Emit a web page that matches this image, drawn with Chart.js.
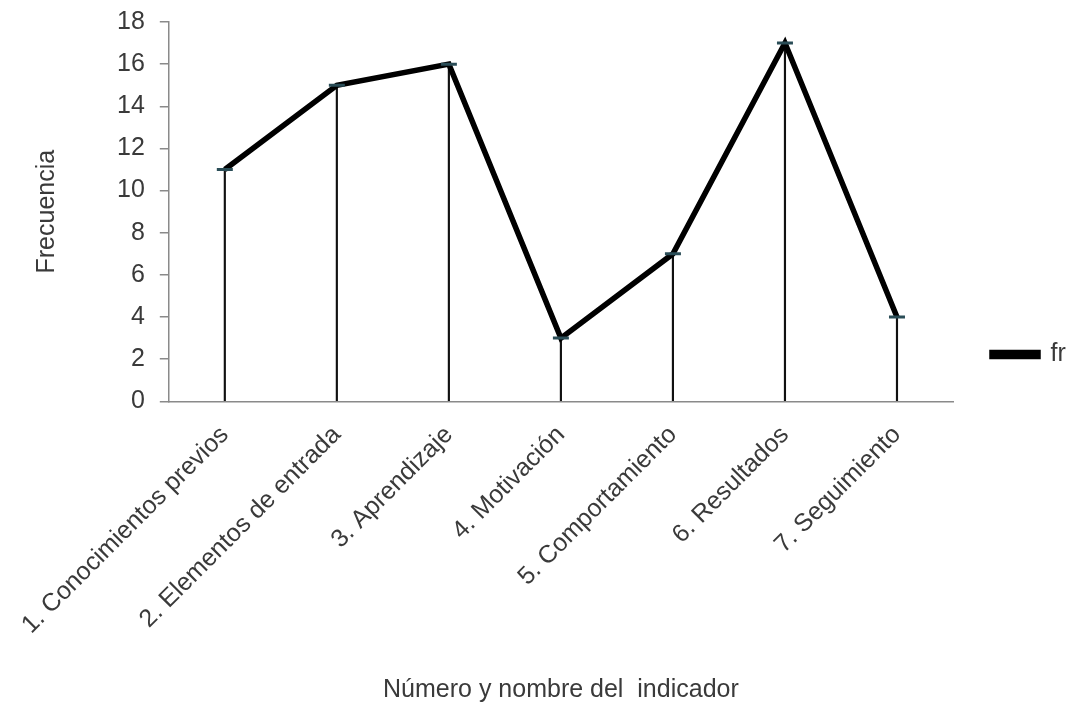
<!DOCTYPE html>
<html>
<head>
<meta charset="utf-8">
<script src="https://cdn.jsdelivr.net/npm/chart.js@4.4.0/dist/chart.umd.min.js"></script>
<style>
  html, body { margin: 0; padding: 0; background: #fff; }
  #wrap { width: 1072px; height: 709px; }
</style>
</head>
<body>
<div id="wrap"><canvas id="chart"></canvas></div>
<script>
const categories = [
    '1. Conocimientos previos',
    '2. Elementos de entrada',
    '3. Aprendizaje',
    '4. Motivación',
    '5. Comportamiento',
    '6. Resultados',
    '7. Seguimiento'
];
const frValues = [11, 15, 16, 3, 7, 17, 4];
const yTicks = [0, 2, 4, 6, 8, 10, 12, 14, 16, 18];

const font = { family: "'Liberation Sans', Arial, sans-serif", size: 25 };
const textColor = '#3a3a3a';
const axisColor = '#8a8a8a';

const ctx = document.getElementById('chart').getContext('2d');

new Chart(ctx, {
    data: {
        labels: categories,
        datasets: [{
            // the vertical drop lines
            type: 'bar',
            label: 'drop',
            data: frValues,
            backgroundColor: '#111',
            barThickness: 1.5,
            order: 2
        }, {
            type: 'line',
            label: 'fr',
            data: frValues,
            borderColor: '#000',
            backgroundColor: '#000',
            borderWidth: 5.5,
            tension: 0,
            pointStyle: 'line',
            pointRadius: 8,
            pointBorderWidth: 3,
            pointBorderColor: '#2a4d57',
            order: 1
        }]
    },
    options: {
        responsive: true,
        maintainAspectRatio: false,
        animation: false,
        layout: { autoPadding: false, padding: 0 },
        plugins: {
            legend: {
                position: 'right',
                maxWidth: 119,
                labels: {
                    filter: item => item.text === 'fr',
                    boxWidth: 46,
                    boxHeight: 4,
                    padding: 39,
                    color: textColor,
                    font: font
                }
            },
            tooltip: { enabled: false }
        },
        scales: {
            x: {
                offset: true,
                grid: { display: false },
                border: { display: true, color: axisColor, width: 1.5 },
                ticks: {
                    color: textColor,
                    font: font,
                    minRotation: 45,
                    maxRotation: 45,
                    padding: 11,
                    autoSkip: false
                },
                title: {
                    display: true,
                    text: 'Número y nombre del  indicador',
                    color: textColor,
                    font: font,
                    padding: { top: 24, bottom: 4 }
                }
            },
            y: {
                min: 0,
                max: 18,
                afterBuildTicks: scale => { scale.ticks = yTicks.map(v => ({ value: v })); },
                afterFit: scale => { scale.paddingTop = 22; },
                grid: { drawOnChartArea: false, tickLength: 9, color: axisColor, lineWidth: 1.5 },
                border: { display: true, color: axisColor, width: 1.5 },
                ticks: { color: textColor, font: font, padding: 15 },
                title: {
                    display: true,
                    text: 'Frecuencia',
                    color: textColor,
                    font: font,
                    padding: { top: 32, bottom: 40 }
                }
            }
        }
    }
});
</script>
</body>
</html>
